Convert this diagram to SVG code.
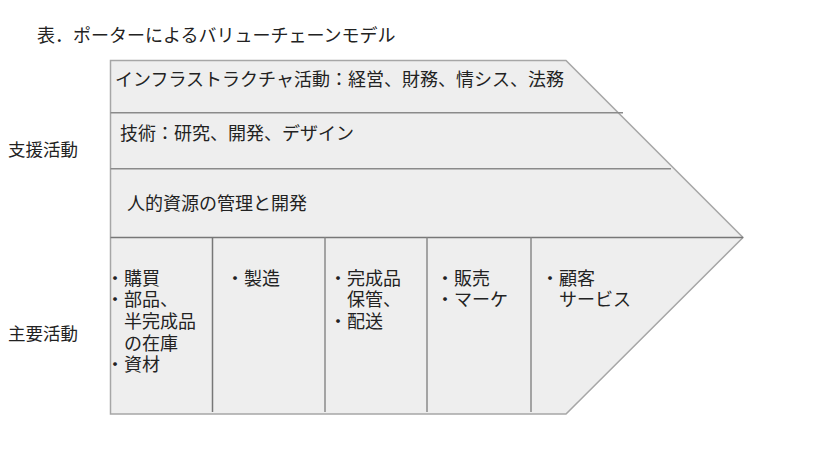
<svg xmlns="http://www.w3.org/2000/svg" width="814" height="452" viewBox="0 0 814 452">
<style>
text{font-family:"Noto Sans CJK JP","Noto Sans",sans-serif;font-size:18px;fill:#222}
.lbl{font-size:17.5px}
.outer{fill:#eeeeee;stroke:#a6a6a6;stroke-width:1.5}
.div{stroke:#8a8a8a;stroke-width:1.5;fill:none}
.vdiv{stroke:#777;stroke-width:1.5;fill:none}
</style>
<rect width="814" height="452" fill="#fff"/>
<text id="title" x="37" y="42">表．ポーターによるバリューチェーンモデル</text>
<g id="shape">
<path class="outer" d="M110.5,60.5 H566 L743,237.5 L566,414 H110.5 Z"/>
</g>
<g id="connectors">
<line class="div" x1="110.5" y1="112.7" x2="623" y2="112.7"/>
<line class="div" x1="110.5" y1="168.7" x2="671" y2="168.7"/>
<line class="vdiv" x1="110.5" y1="237.5" x2="743" y2="237.5"/>
<line class="vdiv" x1="212.5" y1="237.5" x2="212.5" y2="412"/>
<line class="div" x1="325" y1="237.5" x2="325" y2="412"/>
<line class="div" x1="427" y1="237.5" x2="427" y2="412"/>
<line class="div" x1="531" y1="237.5" x2="531" y2="412"/>
</g>
<g id="labels">
<text class="lbl" x="8" y="156">支援活動</text>
<text class="lbl" x="8" y="339.5">主要活動</text>
</g>
<g id="infra"><text x="115" y="86">インフラストラクチャ活動：経営、財務、情シス、法務</text></g>
<g id="tech"><text x="120" y="139.5">技術：研究、開発、デザイン</text></g>
<g id="hr"><text x="127" y="210">人的資源の管理と開発</text></g>
<g id="inbound">
<text x="106" y="284.5">・購買</text>
<text x="106" y="306">・部品、</text>
<text x="124" y="328">半完成品</text>
<text x="124" y="349.5">の在庫</text>
<text x="106" y="371">・資材</text>
</g>
<g id="operations"><text x="226" y="284.5">・製造</text></g>
<g id="outbound">
<text x="329" y="284.5">・完成品</text>
<text x="347" y="306">保管、</text>
<text x="329" y="328">・配送</text>
</g>
<g id="marketing">
<text x="436" y="284.5">・販売</text>
<text x="436" y="306">・マーケ</text>
</g>
<g id="service">
<text x="541" y="284.5">・顧客</text>
<text x="559" y="306">サービス</text>
</g>
</svg>
